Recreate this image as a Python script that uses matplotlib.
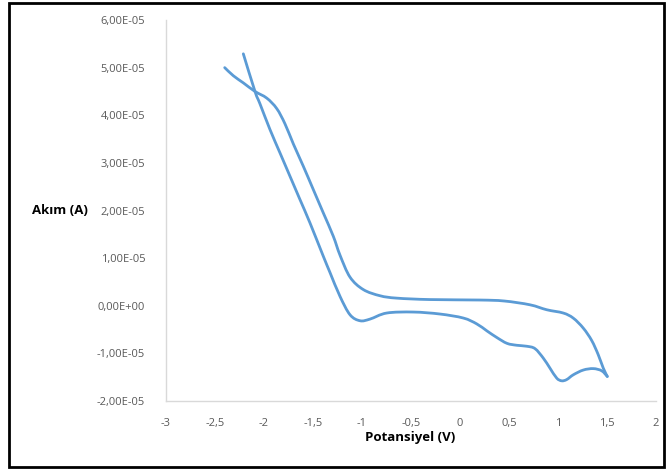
import matplotlib
matplotlib.use("Agg")
import matplotlib.pyplot as plt
from matplotlib.patches import Rectangle, PathPatch
from matplotlib.path import Path

# Forward scan (from -2.4 V to +1.5 V)
fwd_v = [-2.401, -2.313, -2.211, -2.092, -1.972, -1.870, -1.786, -1.701, -1.599, -1.497,
         -1.395, -1.293, -1.224, -1.122, -0.987, -0.816, -0.646, -0.306, 0.204, 0.45,
         0.714, 0.885, 1.054, 1.156, 1.258, 1.344, 1.411, 1.462, 1.503]
fwd_i = [5.00e-5, 4.83e-5, 4.68e-5, 4.50e-5, 4.36e-5, 4.14e-5, 3.82e-5, 3.40e-5, 2.93e-5, 2.44e-5,
         1.95e-5, 1.46e-5, 1.06e-5, 0.60e-5, 0.34e-5, 0.21e-5, 0.16e-5, 0.13e-5, 0.12e-5, 0.10e-5,
         0.02e-5, -0.084e-5, -0.153e-5, -0.26e-5, -0.47e-5, -0.73e-5, -1.03e-5, -1.31e-5, -1.485e-5]

# Reverse scan (from +1.5 V back to -2.2 V)
rev_v = [1.503, 1.446, 1.36, 1.258, 1.156, 1.089, 1.038, 0.987, 0.918, 0.85,
         0.765, 0.68, 0.58, 0.48, 0.378, 0.276, 0.17, 0.034, -0.204, -0.477,
         -0.748, -0.918, -1.02, -1.122, -1.224, -1.327, -1.395, -1.531, -1.633, -1.735,
         -1.837, -1.939, -2.041, -2.092, -2.211]
rev_i = [-1.485e-5, -1.366e-5, -1.32e-5, -1.35e-5, -1.45e-5, -1.55e-5, -1.576e-5, -1.52e-5, -1.31e-5, -1.10e-5,
         -0.90e-5, -0.85e-5, -0.83e-5, -0.79e-5, -0.67e-5, -0.53e-5, -0.38e-5, -0.258e-5, -0.174e-5, -0.132e-5,
         -0.153e-5, -0.28e-5, -0.315e-5, -0.19e-5, 0.195e-5, 0.70e-5, 1.04e-5, 1.74e-5, 2.23e-5, 2.72e-5,
         3.21e-5, 3.70e-5, 4.24e-5, 4.50e-5, 5.29e-5]

x_ticks = [-3, -2.5, -2, -1.5, -1, -0.5, 0, 0.5, 1, 1.5, 2]
x_tick_labels = ["-3", "-2,5", "-2", "-1,5", "-1", "-0,5", "0", "0,5", "1", "1,5", "2"]
y_ticks = [-2e-5, -1e-5, 0, 1e-5, 2e-5, 3e-5, 4e-5, 5e-5, 6e-5]
y_tick_labels = ["-2,00E-05", "-1,00E-05", "0,00E+00", "1,00E-05", "2,00E-05",
                 "3,00E-05", "4,00E-05", "5,00E-05", "6,00E-05"]

x_label = "Potansiyel (V)"
y_label = "Akım (A)"

plt.rcParams['font.family'] = ['Open Sans', 'DejaVu Sans']

fig = plt.figure(figsize=(6.7, 4.7), dpi=100)
ax = fig.add_axes([166/670, 69/470, 490/670, 381/470])

ax.set_xlim(-3, 2)
ax.set_ylim(-2e-5, 6e-5)


def smoothed_path(xs, ys, ax):
    """Excel-style smoothed line: Bezier segments through the data points,
    built in display space and mapped back through the axes transform."""
    pts = ax.transData.transform(list(zip(xs, ys)))
    n = len(pts)
    verts = [pts[0]]
    codes = [Path.MOVETO]
    t = 1.0 / 6.0
    for k in range(n - 1):
        p0 = pts[k - 1] if k > 0 else pts[k]
        p1 = pts[k]
        p2 = pts[k + 1]
        p3 = pts[k + 2] if k + 2 < n else pts[k + 1]
        c1 = p1 + (p2 - p0) * t
        c2 = p2 - (p3 - p1) * t
        verts += [c1, c2, p2]
        codes += [Path.CURVE4] * 3
    verts = ax.transData.inverted().transform(verts)
    return Path(verts, codes)


line_color = "#5B9BD5"
for xs, ys in [(fwd_v, fwd_i), (rev_v, rev_i)]:
    ax.add_patch(PathPatch(smoothed_path(xs, ys, ax), facecolor='none',
                           edgecolor=line_color, lw=2.0,
                           joinstyle='round', capstyle='round'))

ax.set_xticks(x_ticks)
ax.set_xticklabels(x_tick_labels)
ax.set_yticks(y_ticks)
ax.set_yticklabels(y_tick_labels)

for s in ['top', 'right']:
    ax.spines[s].set_visible(False)
for s in ['left', 'bottom']:
    ax.spines[s].set_color('#D9D9D9')
    ax.spines[s].set_linewidth(1.0)

ax.tick_params(axis='both', length=0, labelsize=8, labelcolor='#595959')
ax.tick_params(axis='y', pad=15)
ax.tick_params(axis='x', pad=12)

ax.set_xlabel(x_label, fontsize=9.5, fontweight='bold', color='black')
ax.xaxis.set_label_coords(0.498, -0.097)
ax.xaxis.label.set_va('center')
ax.set_ylabel(y_label, fontsize=9.5, fontweight='bold', color='black', rotation=0)
ax.yaxis.set_label_coords(-0.216, 0.4987)
ax.yaxis.label.set_va('center')
ax.yaxis.label.set_ha('center')

fig.patches.append(Rectangle((9/670, 3/470), 655/670, 464/470, transform=fig.transFigure,
                             fill=False, edgecolor='black', linewidth=2.0))

fig.savefig("out.png", dpi=100)
